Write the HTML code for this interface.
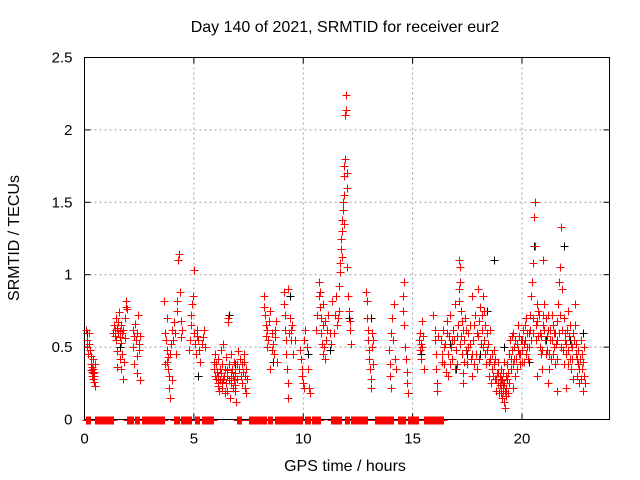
<!DOCTYPE html>
<html><head><meta charset="utf-8"><style>
body{margin:0;background:#fff;}
svg{display:block;font-family:"Liberation Sans",sans-serif;}
</style></head><body>
<svg id="chart" width="640" height="480" viewBox="0 0 640 480" xmlns="http://www.w3.org/2000/svg">
<rect width="640" height="480" fill="#fff"/>
<text x="345" y="32" font-size="16" text-anchor="middle">Day 140 of 2021, SRMTID for receiver eur2</text>
<g id="grid"></g>
<g id="axes"></g>
<g id="marks"></g>
<text x="345" y="471" font-size="16" text-anchor="middle">GPS time / hours</text>
<text transform="translate(19,238) rotate(-90)" font-size="16" text-anchor="middle">SRMTID / TECUs</text>
</svg>
<script>
const xTicks=[0,5,10,15,20];
const yTicks=[0,0.5,1,1.5,2,2.5];
const yTickLabels=["0","0.5","1","1.5","2","2.5"];
const zeroRanges=[[0.09,0.27],[0.5,1.33],[1.92,2.24],[2.29,2.51],[2.65,3.66],[4.11,4.34],[4.39,4.89],[5.03,5.26],[5.35,5.9],[6.99,7.18],[7.54,8.3],[8.37,8.59],[8.73,9.96],[10.1,10.33],[10.38,10.79],[11.29,11.75],[11.89,12.07],[12.2,12.94],[13.3,14.13],[14.35,14.67],[14.77,15.27],[15.5,16.14],[16.18,16.41]];
const redPoints=[[0.05,0.62],[0.1,0.55],[0.12,0.5],[0.15,0.45],[0.2,0.6],[0.22,0.52],[0.25,0.48],[0.28,0.38],[0.3,0.34],[0.32,0.3],[0.33,0.36],[0.35,0.33],[0.37,0.28],[0.38,0.32],[0.4,0.35],[0.42,0.3],[0.43,0.26],[0.45,0.33],[0.47,0.38],[0.48,0.23],[0.3,0.44],[0.4,0.42],
[1.3,0.6],[1.35,0.65],[1.38,0.58],[1.4,0.62],[1.42,0.7],[1.45,0.55],[1.47,0.47],[1.5,0.63],[1.52,0.6],[1.55,0.67],[1.57,0.74],[1.6,0.57],[1.62,0.42],[1.63,0.61],[1.65,0.65],[1.67,0.35],[1.7,0.6],[1.72,0.45],[1.75,0.28],[1.78,0.62],[1.8,0.4],[1.83,0.56],[1.85,0.7],[1.88,0.78],[1.9,0.82],[1.92,0.76],[1.5,0.36],[1.68,0.53],
[2.2,0.62],[2.22,0.5],[2.25,0.38],[2.28,0.58],[2.3,0.66],[2.35,0.55],[2.38,0.44],[2.4,0.32],[2.42,0.6],[2.45,0.72],[2.48,0.52],[2.5,0.48],[2.52,0.27],[2.55,0.58],
[3.65,0.82],[3.7,0.6],[3.72,0.55],[3.75,0.48],[3.78,0.4],[3.8,0.35],[3.82,0.43],[3.85,0.3],[3.88,0.22],[3.9,0.15],[3.93,0.45],[3.95,0.52],[3.98,0.27],[4.0,0.62],[4.05,0.55],[4.1,0.67],[4.15,0.6],[4.2,0.45],[4.22,0.75],[4.25,0.82],[4.28,1.1],[4.3,1.14],[4.35,0.88],[4.4,0.68],[4.42,0.57],[4.45,0.62],[3.75,0.7],[3.68,0.38],
[4.8,0.55],[4.85,0.65],[4.88,0.72],[4.9,0.8],[4.95,0.85],[5.0,1.03],[5.0,0.6],[5.05,0.52],[5.1,0.45],[5.12,0.58],[5.15,0.62],[5.2,0.55],[5.25,0.48],[5.3,0.4],[5.35,0.52],[5.4,0.57],[5.45,0.62],[5.5,0.5],[4.78,0.48],
[5.9,0.4],[5.92,0.35],[5.95,0.3],[5.98,0.45],[6.0,0.28],[6.02,0.38],[6.05,0.33],[6.08,0.25],[6.1,0.42],[6.12,0.3],[6.15,0.2],[6.18,0.35],[6.2,0.27],[6.22,0.48],[6.25,0.32],[6.28,0.22],[6.3,0.38],[6.32,0.28],[6.35,0.52],[6.38,0.3],[6.4,0.18],[6.42,0.35],[6.45,0.25],[6.48,0.43],[6.5,0.3],[6.52,0.2],[6.55,0.67],[6.58,0.7],[6.6,0.38],[6.62,0.27],[6.65,0.15],[6.68,0.33],[6.7,0.45],[6.72,0.25],[6.75,0.35],[6.78,0.22],[6.8,0.3],[6.82,0.4],[6.85,0.27],[6.88,0.2],[6.9,0.32],[6.92,0.12],[6.95,0.38],[6.98,0.28],[7.0,0.47],[7.05,0.35],[7.1,0.42],[7.15,0.3],[7.2,0.38],[7.22,0.25],[7.25,0.33],[7.28,0.45],[7.3,0.4],[7.32,0.22],[7.35,0.3],[7.38,0.35],[7.4,0.18],[7.42,0.28],[6.3,0.26],[6.5,0.34],[6.7,0.29],[6.1,0.23],[6.9,0.24],
[8.2,0.85],[8.22,0.78],[8.25,0.72],[8.28,0.65],[8.3,0.58],[8.33,0.5],[8.35,0.62],[8.4,0.55],[8.45,0.68],[8.48,0.75],[8.5,0.35],[8.55,0.48],[8.58,0.6],[8.6,0.52],[8.65,0.45],[8.7,0.57],[8.72,0.62],[8.75,0.68],[8.8,0.4],
[9.1,0.88],[9.12,0.8],[9.15,0.72],[9.18,0.62],[9.2,0.55],[9.22,0.45],[9.25,0.35],[9.28,0.25],[9.3,0.15],[9.32,0.9],[9.35,0.6],[9.4,0.7],[9.42,0.62],[9.45,0.55],[9.5,0.65],[9.55,0.45],[9.6,0.55],
[9.85,0.48],[9.9,0.42],[9.92,0.35],[9.95,0.3],[10.0,0.25],[10.02,0.22],[10.05,0.55],[10.1,0.62],[10.15,0.5],[10.2,0.35],[10.25,0.22],[10.3,0.18],
[10.6,0.62],[10.65,0.72],[10.7,0.85],[10.72,0.95],[10.75,0.88],[10.78,0.78],[10.8,0.7],[10.82,0.6],[10.85,0.52],[10.88,0.45],[10.9,0.65],[10.92,0.8],[10.95,0.5],[10.98,0.42],[11.0,0.68],[11.05,0.55],[11.1,0.62],[11.15,0.72],[11.2,0.6],[11.25,0.52],[11.3,0.82],[11.4,0.6],[11.45,0.72],[11.5,0.85],[11.55,0.65],[11.6,0.7],[11.62,0.75],[11.65,0.92],[11.68,1.02],[11.7,1.08],[11.72,1.18],[11.74,1.25],[11.76,1.3],[11.78,1.38],[11.8,1.45],[11.82,1.5],[11.84,1.55],[11.86,1.68],[11.88,1.75],[11.9,1.8],[11.92,2.1],[11.94,2.14],[11.96,2.24],[11.98,1.7],[12.0,1.6],[12.02,1.05],[12.05,0.85],[12.1,0.75],[12.12,0.68],[12.15,0.62],[12.2,0.52],[11.75,1.12],[11.85,1.35],
[12.88,0.88],[12.9,0.82],[12.92,0.7],[12.95,0.62],[12.98,0.55],[13.0,0.48],[13.02,0.42],[13.05,0.35],[13.08,0.28],[13.1,0.22],[13.12,0.6],[13.15,0.5],[13.18,0.38],[13.2,0.55],
[13.9,0.48],[13.95,0.38],[13.98,0.3],[14.0,0.22],[14.02,0.6],[14.05,0.7],[14.1,0.55],[14.15,0.8],[14.2,0.42],[14.25,0.35],[14.55,0.75],[14.58,0.85],[14.6,0.95],[14.62,0.65],[14.65,0.5],[14.7,0.42],[14.72,0.33],[14.75,0.25],[14.78,0.18],
[15.3,0.55],[15.32,0.48],[15.35,0.6],[15.38,0.42],[15.4,0.52],[15.42,0.68],[15.45,0.5],[15.48,0.58],[15.5,0.35],[15.95,0.72],[16.0,0.62],[16.02,0.55],[16.05,0.45],[16.08,0.35],[16.1,0.25],[16.12,0.2],[16.15,0.58],
[16.3,0.55],[16.35,0.45],[16.4,0.62],[16.45,0.38],[16.5,0.52],[16.55,0.68],[16.6,0.45],[16.62,0.3],[16.65,0.58],[16.7,0.72],[16.75,0.5],[16.8,0.42],[16.85,0.62],[16.9,0.55],[16.95,0.8],[17.0,0.48],[17.05,0.38],[17.08,0.65],[17.1,0.9],[17.12,1.1],[17.15,1.05],[17.18,0.95],[17.2,0.75],[17.22,0.58],[17.25,0.45],[17.28,0.32],[17.3,0.62],[17.35,0.55],[17.4,0.7],[17.45,0.48],[17.5,0.38],[17.55,0.6],[17.6,0.52],[17.65,0.42],[17.7,0.3],[17.75,0.55],[17.8,0.65],[17.85,0.72],[17.9,0.45],[17.95,0.35],[18.0,0.58],[18.05,0.68],[18.1,0.78],[18.15,0.62],[18.2,0.5],[18.22,0.85],[18.25,0.75],[18.3,0.45],[18.35,0.38],[18.4,0.6],[18.45,0.52],[18.5,0.3],[18.55,0.42],[18.6,0.25],[18.65,0.35],[18.7,0.48],[18.75,0.28],[18.8,0.2],[18.85,0.32],[18.9,0.25],[18.95,0.18],[19.0,0.3],[19.02,0.22],[19.05,0.35],[19.08,0.15],[19.1,0.27],[19.12,0.2],[19.15,0.32],[19.18,0.12],[19.2,0.25],[19.22,0.08],[19.25,0.3],[19.28,0.22],[19.3,0.38],[19.35,0.18],[19.4,0.45],[19.45,0.55],[19.5,0.35],[19.55,0.48],[19.6,0.6],[19.65,0.42],[19.7,0.3],[19.75,0.52],[19.8,0.65],[19.85,0.45],[19.9,0.38],[19.95,0.55],[20.0,0.48],[20.05,0.62],[20.1,0.4],[20.15,0.55],[20.2,0.7],[20.25,0.5],[20.3,0.6],[20.35,0.72],[20.4,0.85],[20.45,0.95],[20.5,1.08],[20.55,1.4],[20.58,1.5],[20.6,1.2],[20.62,0.65],[20.65,0.55],[20.7,0.8],[20.75,0.75],[20.8,0.6],[20.85,0.45],[20.9,0.35],[20.95,0.65],[21.0,0.8],[21.05,0.55],[21.1,0.7],[21.15,0.48],[21.2,0.62],[21.25,0.35],[21.3,0.55],[21.35,0.72],[21.4,0.45],[21.45,0.6],[21.5,0.38],[21.55,0.52],[21.6,0.68],[21.65,0.8],[21.7,0.95],[21.75,1.05],[21.8,1.33],[21.85,0.9],[21.9,0.7],[21.95,0.55],[22.0,0.45],[22.05,0.62],[22.1,0.75],[22.15,0.58],[22.2,0.42],[22.25,0.35],[22.3,0.5],[22.35,0.6],[22.4,0.8],[22.45,0.45],[22.5,0.3],[22.55,0.38],[22.6,0.25],[22.65,0.42],[22.7,0.55],[22.75,0.35],[22.8,0.2],[22.85,0.3],[17.3,0.25],[18.0,0.9],[18.3,0.65],[19.6,0.22],[20.7,0.3],[21.2,0.25],[22.0,0.22],[17.7,0.85],[20.95,1.1],[21.6,0.2],
[16.32,0.4],[16.42,0.5],[16.52,0.33],[16.58,0.6],[16.72,0.38],[16.82,0.55],[16.92,0.35],[17.02,0.58],[17.13,0.82],[17.17,0.52],[17.27,0.68],[17.37,0.4],[17.42,0.62],[17.52,0.5],[17.62,0.65],[17.72,0.45],[17.82,0.38],[17.92,0.6],[18.02,0.42],[18.12,0.52],[18.18,0.72],[18.28,0.55],[18.38,0.48],[18.48,0.4],[18.52,0.62],[18.62,0.45],[18.68,0.3],[18.72,0.38],[18.78,0.42],[18.82,0.28],[18.88,0.4],[18.92,0.32],[18.98,0.24],[19.04,0.28],[19.06,0.18],[19.14,0.24],[19.16,0.4],[19.24,0.2],[19.26,0.16],[19.32,0.28],[19.38,0.32],[19.42,0.25],[19.48,0.42],[19.52,0.58],[19.58,0.38],[19.62,0.5],[19.68,0.55],[19.72,0.42],[19.78,0.35],[19.82,0.48],[19.88,0.58],[19.92,0.45],[19.98,0.4],[20.02,0.55],[20.08,0.52],[20.12,0.65],[20.18,0.45],[20.22,0.6],[20.28,0.42],[20.32,0.5],[20.38,0.62],[20.42,0.55],[20.48,0.7],[20.52,0.6],[20.68,0.68],[20.72,0.58],[20.78,0.72],[20.82,0.5],[20.88,0.58],[20.92,0.48],[20.98,0.72],[21.02,0.62],[21.08,0.45],[21.12,0.58],[21.18,0.72],[21.22,0.45],[21.28,0.62],[21.32,0.42],[21.38,0.55],[21.42,0.65],[21.48,0.5],[21.52,0.6],[21.58,0.42],[21.62,0.55],[21.68,0.6],[21.72,0.72],[21.78,0.5],[21.82,0.62],[21.88,0.48],[21.92,0.38],[21.98,0.6],[22.02,0.52],[22.08,0.38],[22.12,0.48],[22.18,0.65],[22.22,0.52],[22.28,0.42],[22.32,0.28],[22.38,0.55],[22.42,0.65],[22.48,0.52],[22.52,0.42],[22.58,0.48],[22.62,0.35],[22.68,0.28],[22.72,0.45],[22.78,0.4],[22.82,0.5],[22.88,0.25]];
const blackPoints=[[0.1,0.6],[1.6,0.5],[3.8,0.35],[5.2,0.3],[6.6,0.72],[6.9,0.38],[8.6,0.4],[9.4,0.85],[10.2,0.45],[11.2,0.48],[12.1,0.7],[13.1,0.7],[15.4,0.45],[17.0,0.35],[17.5,0.45],[18.1,0.45],[18.7,1.1],[19.2,0.5],[20.3,0.4],[20.55,1.2],[21.1,0.55],[21.9,1.2],[22.2,0.55],[22.8,0.6],[16.7,0.52],[18.4,0.75]];

const L=84.5,R=609.5,T=57.5,B=419.5,XMAX=24,YMAX=2.5;
const xs=h=>L+h/XMAX*(R-L);
const ys=v=>B-v/YMAX*(B-T);
const NS="http://www.w3.org/2000/svg";
function mk(tag,attrs,parent){const e=document.createElementNS(NS,tag);for(const k in attrs)e.setAttribute(k,attrs[k]);parent.appendChild(e);return e;}
const grid=document.getElementById('grid'),axes=document.getElementById('axes'),marks=document.getElementById('marks');
xTicks.forEach(t=>{
  if(t>0){const g=mk('line',{x1:xs(t),x2:xs(t),y1:T,y2:B,stroke:'#a0a0a0','stroke-dasharray':'2,3'},grid);
  
  }
  const lb=mk('text',{x:xs(t),y:B+24,'font-size':15,'text-anchor':'middle'},axes);lb.textContent=String(t);
  
  
  mk('line',{x1:xs(t),x2:xs(t),y1:B,y2:B-6,stroke:'#000'},axes);
  mk('line',{x1:xs(t),x2:xs(t),y1:T,y2:T+6,stroke:'#000'},axes);
});
yTicks.forEach((t,i)=>{
  if(t>0&&t<YMAX){const g=mk('line',{x1:L,x2:R,y1:ys(t),y2:ys(t),stroke:'#a0a0a0','stroke-dasharray':'2,3'},grid);
  
  }
  const lb=mk('text',{x:L-12,y:ys(t)+5,'font-size':15,'text-anchor':'end'},axes);lb.textContent=yTickLabels[i];
  
  
  mk('line',{x1:L,x2:L+6,y1:ys(t),y2:ys(t),stroke:'#000'},axes);
  mk('line',{x1:R,x2:R-6,y1:ys(t),y2:ys(t),stroke:'#000'},axes);
});
const fr=mk('rect',{x:L,y:T,width:R-L,height:B-T,fill:'none',stroke:'#000'},axes);


function plus(h,v,col,name){
  const x=Math.round(xs(h))+0.5,y=Math.round(ys(v))+0.5;
  const p=mk('path',{d:`M${x-4},${y}H${x+4}M${x},${y-4}V${y+4}`,stroke:col,'stroke-width':1,fill:'none'},marks);
  
  
}
zeroRanges.forEach(r=>{for(let h=r[0];h<=r[1]+1e-9;h+=0.03)plus(h,0,'#ff0000','zero-point');});
blackPoints.forEach(p=>plus(p[0],p[1],'#000000','black-point'));
redPoints.forEach(p=>plus(p[0],p[1],'#ff0000','red-point'));
</script>
</body></html>
